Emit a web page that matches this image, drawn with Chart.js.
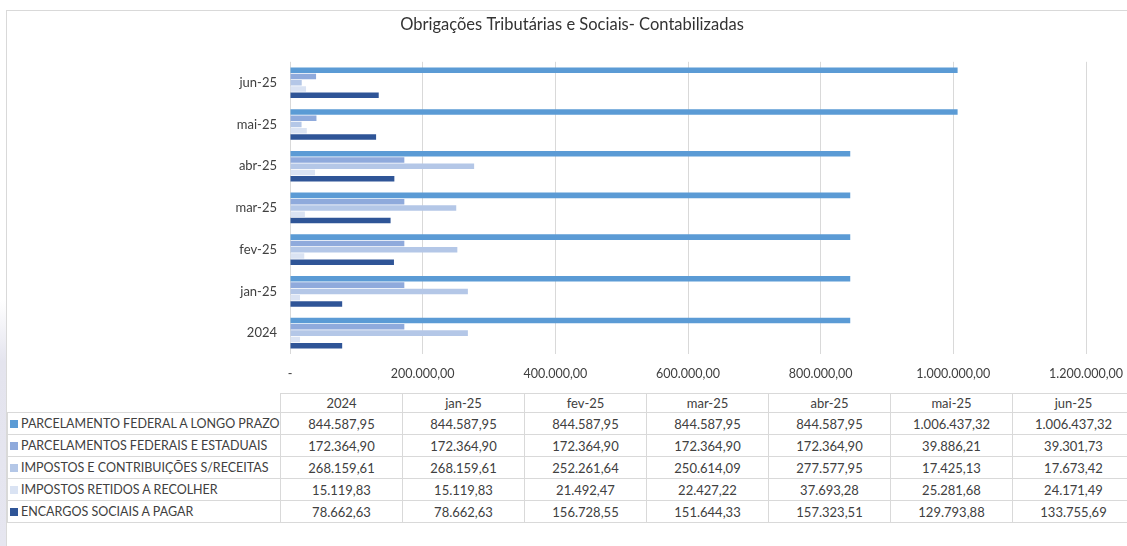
<!DOCTYPE html>
<html>
<head>
<meta charset="utf-8">
<script src="https://cdn.jsdelivr.net/npm/chart.js@4/dist/chart.umd.min.js"></script>
<style>
    html, body {
        margin: 0;
        padding: 0;
        background: #ffffff;
    }
    body {
        width: 1127px;
        height: 546px;
        position: relative;
        overflow: hidden;
        font-family: Lato, 'Open Sans', sans-serif;
        color: #404040;
    }
    .edge {
        position: absolute;
        left: 0;
        top: 300px;
        width: 6px;
        height: 246px;
        background: linear-gradient(#ffffff, #e4e4ee 25%, #e6e6f0);
    }
    .frame {
        position: absolute;
        left: 6px;
        top: 10px;
        width: 1130px;
        height: 560px;
        border-top: 1px solid #d9d9d9;
        border-left: 1px solid #d9d9d9;
    }
    #chart {
        position: absolute;
        left: 0;
        top: 0;
    }
    #dataTable {
        position: absolute;
        left: 7px;
        top: 393px;
        width: 1127px;
        border-collapse: collapse;
        table-layout: fixed;
        font-size: 13px;
        color: #404040;
    }
    #dataTable td {
        border: 1px solid #d9d9d9;
        text-align: center;
        padding: 0;
        height: 21px;
        white-space: nowrap;
        overflow: hidden;
    }
    #dataTable tr.head td {
        height: 18px;
    }
    #dataTable tr.head td.blank {
        border-top: none;
        border-left: none;
    }
    #dataTable td.name {
        text-align: left;
        padding-left: 2px;
        font-size: 12.5px;
    }
    .key {
        display: inline-block;
        width: 8px;
        height: 8px;
        margin-right: 3px;
        vertical-align: 0px;
    }
</style>
</head>
<body>
<div class="edge"></div>
<div class="frame"></div>
<canvas id="chart" width="1127" height="390"></canvas>
<table id="dataTable"></table>

<script>
// categorias (ordem da tabela; o gráfico mostra 2024 em baixo)
const periods = ['2024', 'jan-25', 'fev-25', 'mar-25', 'abr-25', 'mai-25', 'jun-25'];

const seriesNames = [
    'PARCELAMENTO FEDERAL A LONGO PRAZO',
    'PARCELAMENTOS FEDERAIS E ESTADUAIS',
    'IMPOSTOS E CONTRIBUIÇÕES S/RECEITAS',
    'IMPOSTOS RETIDOS A RECOLHER',
    'ENCARGOS SOCIAIS A PAGAR',
];

const parcelamentoLongoPrazo = [844587.95, 844587.95, 844587.95, 844587.95, 844587.95, 1006437.32, 1006437.32];
const parcelamentosFederaisEstaduais = [172364.90, 172364.90, 172364.90, 172364.90, 172364.90, 39886.21, 39301.73];
const impostosSobreReceitas = [268159.61, 268159.61, 252261.64, 250614.09, 277577.95, 17425.13, 17673.42];
const impostosRetidos = [15119.83, 15119.83, 21492.47, 22427.22, 37693.28, 25281.68, 24171.49];
const encargosSociais = [78662.63, 78662.63, 156728.55, 151644.33, 157323.51, 129793.88, 133755.69];

const xTicks = [0, 200000, 400000, 600000, 800000, 1000000, 1200000];

const seriesColors = ['#5b9bd5', '#8faadc', '#b4c7e7', '#dae3f3', '#2f5597'];

const seriesValues = [
    parcelamentoLongoPrazo,
    parcelamentosFederaisEstaduais,
    impostosSobreReceitas,
    impostosRetidos,
    encargosSociais,
];

// formato contábil do Excel: 1.234,56 e zero como "-"
function formatBR(value) {
    if (value === 0) {
        return '-';
    }
    const [intPart, decPart] = value.toFixed(2).split('.');
    return intPart.replace(/\B(?=(\d{3})+(?!\d))/g, '.') + ',' + decPart;
}

const fontFamily = "Lato, 'Open Sans', sans-serif";

new Chart(document.getElementById('chart'), {
    type: 'bar',
    data: {
        labels: periods,
        datasets: seriesNames.map((name, i) => ({
            label: name,
            data: seriesValues[i],
            backgroundColor: seriesColors[i],
            categoryPercentage: 0.75,
            barPercentage: 0.88,
        })),
    },
    options: {
        indexAxis: 'y',
        responsive: false,
        animation: false,
        layout: {
            padding: { left: 58, right: 41, top: 0, bottom: 6 },
        },
        plugins: {
            legend: { display: false },
            tooltip: { enabled: false },
            title: {
                display: true,
                text: 'Obrigações Tributárias e Sociais- Contabilizadas',
                color: '#333333',
                font: { family: fontFamily, size: 16.5, weight: 'normal' },
                padding: { top: 15, bottom: 27 },
            },
        },
        scales: {
            x: {
                min: 0,
                max: 1200000,
                afterBuildTicks(scale) {
                    scale.ticks = xTicks.map((v) => ({ value: v }));
                },
                afterFit(scale) {
                    scale.height = 30;
                    scale.paddingLeft = 0;
                    scale.paddingRight = 0;
                },
                border: { display: false },
                grid: {
                    color: '#d9d9d9',
                    lineWidth: 1,
                    drawTicks: false,
                },
                ticks: {
                    color: '#404040',
                    padding: 12,
                    maxRotation: 0,
                    font: { family: fontFamily, size: 12.5 },
                    callback(value) {
                        return formatBR(value);
                    },
                },
            },
            y: {
                reverse: true,
                afterFit(scale) {
                    scale.width = 232;
                },
                border: { display: false },
                grid: { display: false, drawTicks: false },
                ticks: {
                    color: '#404040',
                    padding: 13,
                    font: { family: fontFamily, size: 13 },
                },
            },
        },
    },
});

// tabela de dados abaixo do gráfico
const table = document.getElementById('dataTable');
let html = '<colgroup><col style="width:273px">';
periods.forEach(() => {
    html += '<col style="width:122px">';
});
html += '</colgroup><tr class="head"><td class="blank"></td>';
periods.forEach((p) => {
    html += `<td>${p}</td>`;
});
html += '</tr>';
seriesNames.forEach((name, i) => {
    html += `<tr><td class="name"><span class="key" style="background:${seriesColors[i]}"></span>${name}</td>`;
    seriesValues[i].forEach((v) => {
        html += `<td>${formatBR(v)}</td>`;
    });
    html += '</tr>';
});
table.innerHTML = html;
</script>
</body>
</html>
